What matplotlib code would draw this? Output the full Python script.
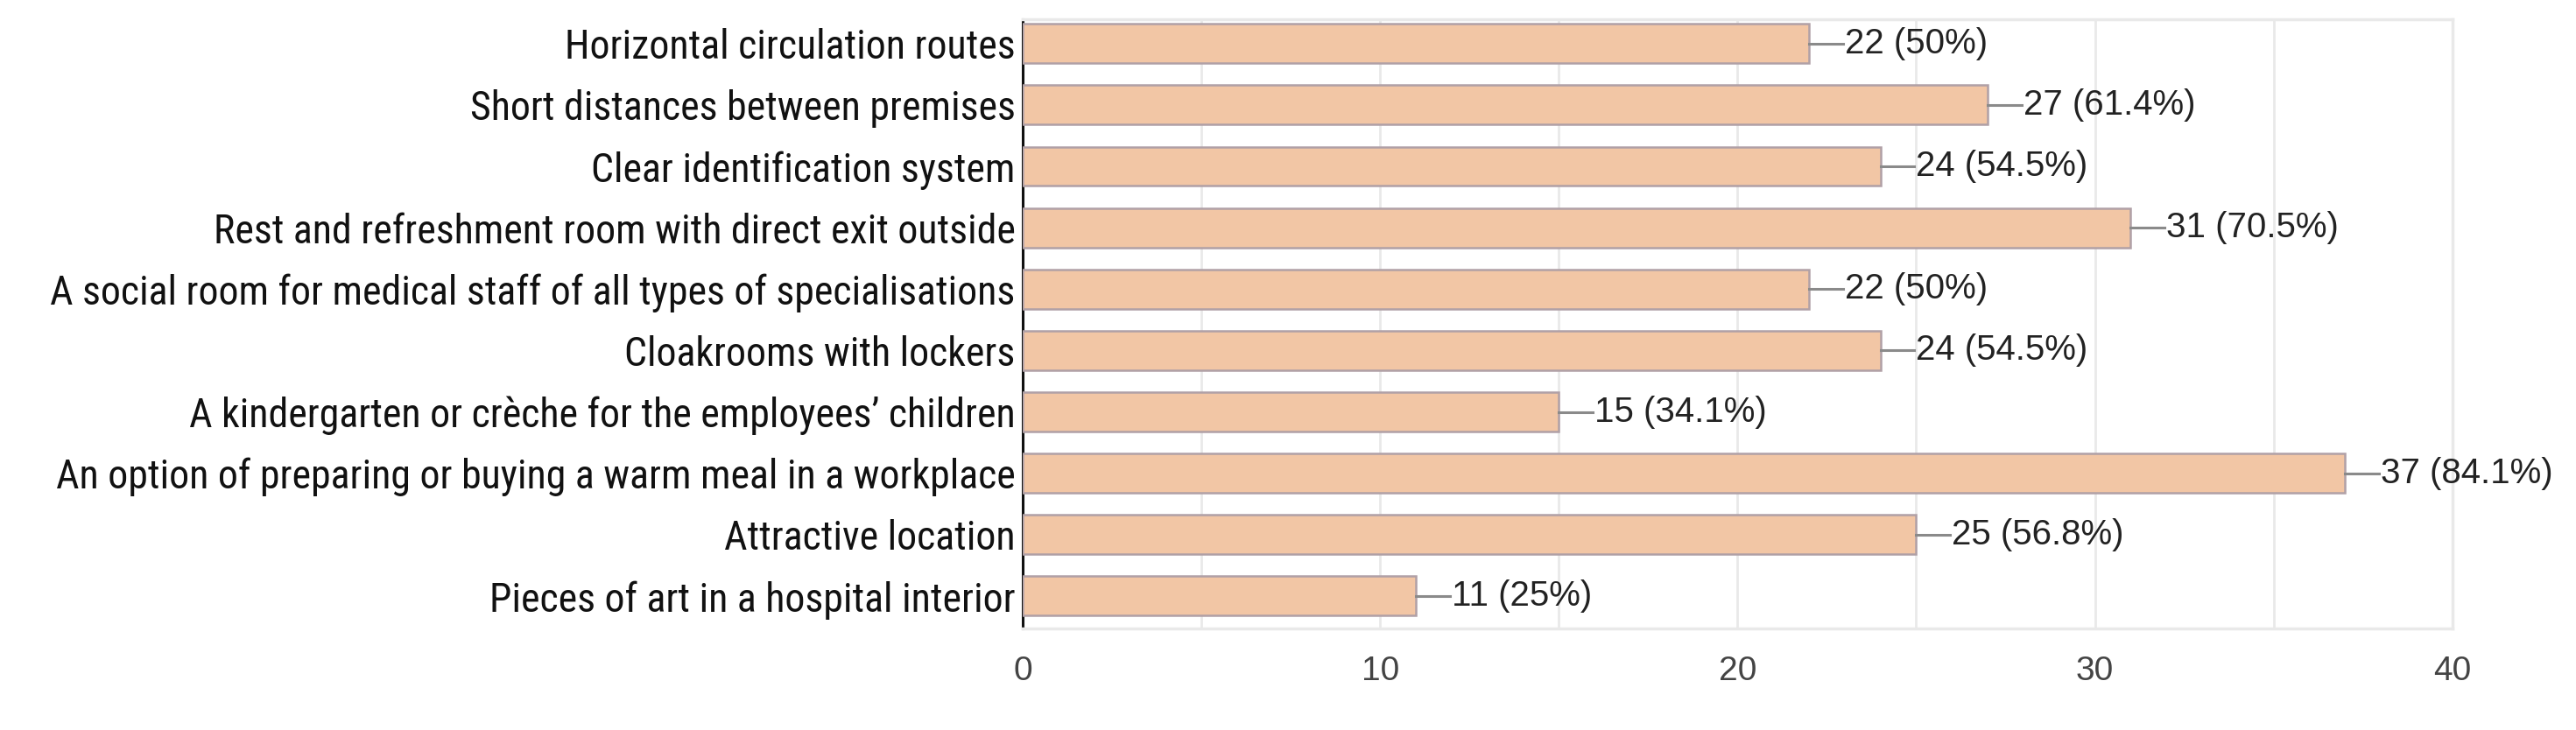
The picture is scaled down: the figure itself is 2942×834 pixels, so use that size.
import matplotlib
matplotlib.use("Agg")
import matplotlib.pyplot as plt
from matplotlib.ticker import MultipleLocator

categories = [
    "Horizontal circulation routes",
    "Short distances between premises",
    "Clear identification system",
    "Rest and refreshment room with direct exit outside",
    "A social room for medical staff of all types of specialisations",
    "Cloakrooms with lockers",
    "A kindergarten or crèche for the employees’ children",
    "An option of preparing or buying a warm meal in a workplace",
    "Attractive location",
    "Pieces of art in a hospital interior",
]
counts = [22, 27, 24, 31, 22, 24, 15, 37, 25, 11]
percents = ["50%", "61.4%", "54.5%", "70.5%", "50%", "54.5%", "34.1%", "84.1%", "56.8%", "25%"]
x_ticks = [0, 10, 20, 30, 40]

BAR_COLOR = "#F2C6A5"
EDGE_COLOR = "#B0A0A6"
GRID_COLOR = "#E9E9E9"

fig = plt.figure(figsize=(29.42, 8.34), dpi=100)
ax = fig.add_axes([0.397, 0.139, 0.555, 0.835])

ypos = list(range(len(categories)))
ax.barh(ypos, counts, height=0.64, color=BAR_COLOR, edgecolor=EDGE_COLOR, linewidth=1.8, zorder=3)

# short grey leader line from bar end to value label
for y, c, p in zip(ypos, counts, percents):
    ax.plot([c, c + 0.95], [y, y], color="#8A8A8A", linewidth=2.2, zorder=3, clip_on=False)
    ax.text(c + 1.0, y, f"{c} ({p})", va="center", ha="left", fontsize=29,
            family="Liberation Sans", color="#222222", zorder=4)

ax.set_xlim(0, 40)
ax.set_ylim(len(categories) - 1 + 0.53, -0.4)
ax.set_xticks(x_ticks)
ax.xaxis.set_minor_locator(MultipleLocator(5))
ax.set_yticks(ypos)
ax.set_yticklabels(categories, fontsize=33, family=["Roboto Condensed", "DejaVu Sans"], color="#111111")
for lbl in ax.get_xticklabels():
    lbl.set_fontsize(28)
    lbl.set_family("Liberation Sans")
    lbl.set_color("#444444")
ax.tick_params(axis="x", which="both", length=0, pad=22)
ax.tick_params(axis="y", length=0, pad=6)

ax.grid(axis="x", which="both", color=GRID_COLOR, linewidth=2, zorder=0)
ax.set_axisbelow(True)

for side in ("top", "right", "bottom"):
    ax.spines[side].set_color(GRID_COLOR)
    ax.spines[side].set_linewidth(2.5)
ax.spines["left"].set_color("#111111")
ax.spines["left"].set_linewidth(2.2)

fig.savefig("out.png", dpi=100)
